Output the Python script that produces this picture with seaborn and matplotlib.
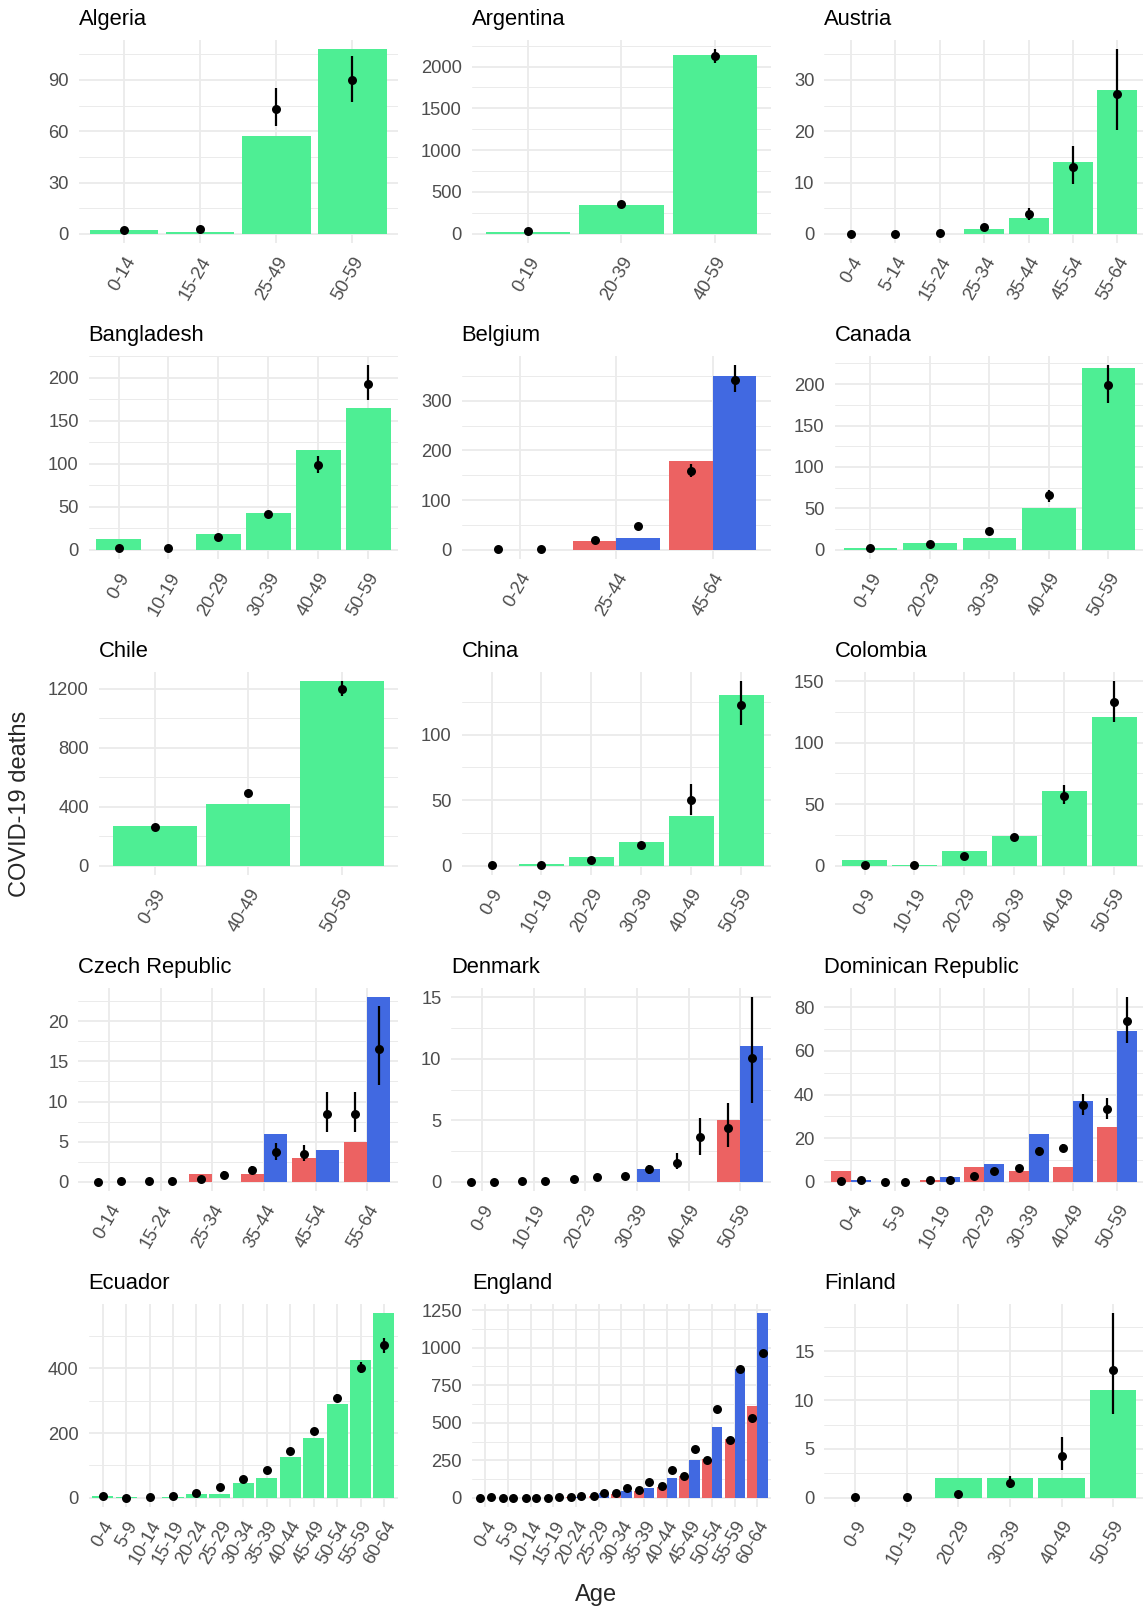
import numpy as np
import pandas as pd
import matplotlib
matplotlib.use("Agg")
import matplotlib.pyplot as plt
import seaborn as sns

# ---------------- data ----------------
algeria_ages = ["0-14", "15-24", "25-49", "50-59"]
algeria_deaths = [2, 1, 57, 108]
algeria_est = [2.0, 2.7, 73.2, 90.0]
algeria_lo = [1.2, 1.8, 62.9, 77.1]
algeria_hi = [2.9, 3.8, 85.3, 104.2]

argentina_ages = ["0-19", "20-39", "40-59"]
argentina_deaths = [20, 343, 2139]
argentina_est = [32, 351, 2123]
argentina_lo = [26, 331, 2044]
argentina_hi = [38, 371, 2207]

austria_ages = ["0-4", "5-14", "15-24", "25-34", "35-44", "45-54", "55-64"]
austria_deaths = [0, 0, 0, 1, 3, 14, 28]
austria_est = [0.02, 0.04, 0.2, 1.3, 3.9, 13.0, 27.3]
austria_lo = [0.01, 0.02, 0.1, 0.9, 2.7, 9.8, 20.2]
austria_hi = [0.04, 0.07, 0.35, 1.8, 5.1, 17.1, 36.0]

bangladesh_ages = ["0-9", "10-19", "20-29", "30-39", "40-49", "50-59"]
bangladesh_deaths = [12, 0, 18, 43, 116, 165]
bangladesh_est = [2.3, 2.3, 14.3, 41.7, 98.5, 193.0]
bangladesh_lo = [1.6, 1.6, 12.2, 38.0, 88.8, 173.7]
bangladesh_hi = [3.2, 3.2, 16.6, 45.6, 109.3, 214.3]

belgium_ages = ["0-24", "25-44", "45-64"]
belgium_deaths_f = [0, 18, 178]
belgium_deaths_m = [0, 24, 350]
belgium_est_f = [2.0, 20.0, 158.7]
belgium_lo_f = [1.2, 16.5, 147.4]
belgium_hi_f = [3.0, 23.8, 172.8]
belgium_est_m = [2.2, 47.0, 342.3]
belgium_lo_m = [1.4, 41.5, 316.8]
belgium_hi_m = [3.2, 53.0, 371.7]

canada_ages = ["0-19", "20-29", "30-39", "40-49", "50-59"]
canada_deaths = [2, 8, 14, 51, 220]
canada_est = [1.6, 6.8, 22.9, 65.9, 198.8]
canada_lo = [1.0, 5.3, 20.0, 58.2, 176.7]
canada_hi = [2.4, 8.6, 26.0, 72.3, 222.9]

chile_ages = ["0-39", "40-49", "50-59"]
chile_deaths = [270, 420, 1250]
chile_est = [260, 490, 1195]
chile_lo = [245, 468, 1150]
chile_hi = [276, 512, 1250]

china_ages = ["0-9", "10-19", "20-29", "30-39", "40-49", "50-59"]
china_deaths = [0, 1, 7, 18, 38, 130]
china_est = [0.5, 0.5, 4.7, 15.6, 50.0, 122.6]
china_lo = [0.2, 0.2, 3.5, 13.4, 39.0, 107.0]
china_hi = [0.9, 0.9, 6.1, 18.0, 62.5, 140.6]

colombia_ages = ["0-9", "10-19", "20-29", "30-39", "40-49", "50-59"]
colombia_deaths = [5, 1, 12, 24, 61, 121]
colombia_est = [1.0, 1.0, 8.0, 23.0, 57.0, 133.0]
colombia_lo = [0.6, 0.6, 6.4, 20.5, 50.0, 117.0]
colombia_hi = [1.5, 1.5, 9.8, 25.8, 66.0, 150.0]

czech_ages = ["0-14", "15-24", "25-34", "35-44", "45-54", "55-64"]
czech_deaths_f = [0, 0, 1, 1, 3, 5]
czech_deaths_m = [0, 0, 0, 6, 4, 23]
czech_est_f = [0.02, 0.05, 0.4, 1.5, 3.4, 8.5]
czech_lo_f = [0.01, 0.02, 0.25, 1.1, 2.6, 6.2]
czech_hi_f = [0.04, 0.09, 0.6, 2.0, 4.6, 11.2]
czech_est_m = [0.05, 0.1, 0.9, 3.7, 8.5, 16.5]
czech_lo_m = [0.02, 0.05, 0.6, 2.7, 6.2, 12.1]
czech_hi_m = [0.09, 0.17, 1.3, 4.8, 11.2, 21.9]

denmark_ages = ["0-9", "10-19", "20-29", "30-39", "40-49", "50-59"]
denmark_deaths_f = [0, 0, 0, 0, 0, 5]
denmark_deaths_m = [0, 0, 0, 1, 0, 11]
denmark_est_f = [0.0, 0.03, 0.2, 0.45, 1.5, 4.35]
denmark_lo_f = [0.0, 0.01, 0.12, 0.3, 1.0, 2.8]
denmark_hi_f = [0.01, 0.06, 0.3, 0.65, 2.3, 6.4]
denmark_est_m = [0.02, 0.05, 0.35, 1.0, 3.6, 10.1]
denmark_lo_m = [0.01, 0.02, 0.22, 0.67, 2.2, 6.4]
denmark_hi_m = [0.04, 0.09, 0.5, 1.4, 5.2, 15.0]

dominican_ages = ["0-4", "5-9", "10-19", "20-29", "30-39", "40-49", "50-59"]
dominican_deaths_f = [5, 0, 1, 7, 5, 7, 25]
dominican_deaths_m = [1, 0, 2, 8, 22, 37, 69]
dominican_est_f = [0.5, 0.1, 0.6, 2.7, 6.1, 15.4, 33.5]
dominican_lo_f = [0.3, 0.05, 0.4, 2.1, 5.1, 13.5, 29.0]
dominican_hi_f = [0.8, 0.2, 0.9, 3.4, 7.3, 17.5, 38.4]
dominican_est_m = [0.6, 0.1, 0.8, 4.9, 14.0, 35.4, 73.6]
dominican_lo_m = [0.4, 0.05, 0.5, 4.0, 12.3, 30.5, 63.5]
dominican_hi_m = [0.9, 0.2, 1.1, 5.9, 15.9, 40.4, 84.6]

five_year_ages = ["0-4", "5-9", "10-14", "15-19", "20-24", "25-29", "30-34",
                  "35-39", "40-44", "45-49", "50-54", "55-59", "60-64"]

ecuador_deaths = [4, 2, 0, 1, 13, 13, 46, 61, 125, 186, 289, 427, 570]
ecuador_est = [7, 0.5, 1, 5, 16, 33, 57, 85, 143, 206, 307, 401, 471]
ecuador_lo = [5, 0.2, 0.5, 3.5, 13, 29, 52, 79, 135, 196, 295, 384, 448]
ecuador_hi = [9, 1, 1.8, 7, 19, 37, 62, 91, 151, 216, 319, 420, 495]

england_deaths_f = [0, 0, 0, 0, 3, 10, 25, 45, 75, 145, 260, 395, 615]
england_deaths_m = [0, 0, 0, 1, 5, 30, 45, 67, 130, 250, 470, 860, 1230]
england_est_f = [1, 1, 1, 1, 7, 12, 29, 49, 76, 143, 252, 388, 530]
england_lo_f = [0.5, 0.5, 0.5, 0.5, 5, 10, 26, 45, 71, 136, 243, 377, 517]
england_hi_f = [1.5, 1.5, 1.5, 1.5, 9, 14, 32, 53, 81, 150, 261, 399, 543]
england_est_m = [2, 1, 1, 2, 12, 31, 62, 107, 187, 325, 593, 858, 965]
england_lo_m = [1, 0.5, 0.5, 1, 10, 28, 58, 101, 179, 314, 578, 839, 945]
england_hi_m = [3, 1.5, 1.5, 3, 14, 34, 66, 113, 195, 336, 608, 877, 985]

finland_ages = ["0-9", "10-19", "20-29", "30-39", "40-49", "50-59"]
finland_deaths = [0, 0, 2, 2, 2, 11]
finland_est = [0.05, 0.05, 0.4, 1.5, 4.3, 13.1]
finland_lo = [0.02, 0.02, 0.2, 1.0, 2.8, 8.6]
finland_hi = [0.1, 0.1, 0.7, 2.2, 6.2, 18.9]

# ---------------- styling ----------------
sns.set_style("white")
plt.rcParams["font.family"] = ["Liberation Sans", "DejaVu Sans"]

SEX_COLORS = {"both": "#4EEE94", "female": "#EC6262", "male": "#4169E1"}
SEX_OFFSET = {"both": 0.0, "female": -0.225, "male": 0.225}
GRID = "#EBEBEB"
TEXT_GREY = "#4D4D4D"

W, H = 1143, 1612
fig = plt.figure(figsize=(W / 100, H / 100), dpi=100)


def both(ages, deaths, est, lo, hi):
    bars = pd.DataFrame({"age": ages, "sex": "both", "deaths": deaths})
    pts = pd.DataFrame({"age": ages, "sex": "both", "est": est, "lo": lo, "hi": hi})
    return bars, pts


def by_sex(ages, df_, dm_, ef, lf, hf, em, lm, hm):
    bars = pd.concat([
        pd.DataFrame({"age": ages, "sex": "female", "deaths": df_}),
        pd.DataFrame({"age": ages, "sex": "male", "deaths": dm_}),
    ])
    pts = pd.concat([
        pd.DataFrame({"age": ages, "sex": "female", "est": ef, "lo": lf, "hi": hf}),
        pd.DataFrame({"age": ages, "sex": "male", "est": em, "lo": lm, "hi": hm}),
    ])
    return bars, pts


panels = [
    ("Algeria", algeria_ages, *both(algeria_ages, algeria_deaths, algeria_est, algeria_lo, algeria_hi), 30),
    ("Argentina", argentina_ages, *both(argentina_ages, argentina_deaths, argentina_est, argentina_lo, argentina_hi), 500),
    ("Austria", austria_ages, *both(austria_ages, austria_deaths, austria_est, austria_lo, austria_hi), 10),
    ("Bangladesh", bangladesh_ages, *both(bangladesh_ages, bangladesh_deaths, bangladesh_est, bangladesh_lo, bangladesh_hi), 50),
    ("Belgium", belgium_ages, *by_sex(belgium_ages, belgium_deaths_f, belgium_deaths_m,
                                      belgium_est_f, belgium_lo_f, belgium_hi_f,
                                      belgium_est_m, belgium_lo_m, belgium_hi_m), 100),
    ("Canada", canada_ages, *both(canada_ages, canada_deaths, canada_est, canada_lo, canada_hi), 50),
    ("Chile", chile_ages, *both(chile_ages, chile_deaths, chile_est, chile_lo, chile_hi), 400),
    ("China", china_ages, *both(china_ages, china_deaths, china_est, china_lo, china_hi), 50),
    ("Colombia", colombia_ages, *both(colombia_ages, colombia_deaths, colombia_est, colombia_lo, colombia_hi), 50),
    ("Czech Republic", czech_ages, *by_sex(czech_ages, czech_deaths_f, czech_deaths_m,
                                           czech_est_f, czech_lo_f, czech_hi_f,
                                           czech_est_m, czech_lo_m, czech_hi_m), 5),
    ("Denmark", denmark_ages, *by_sex(denmark_ages, denmark_deaths_f, denmark_deaths_m,
                                      denmark_est_f, denmark_lo_f, denmark_hi_f,
                                      denmark_est_m, denmark_lo_m, denmark_hi_m), 5),
    ("Dominican Republic", dominican_ages, *by_sex(dominican_ages, dominican_deaths_f, dominican_deaths_m,
                                                   dominican_est_f, dominican_lo_f, dominican_hi_f,
                                                   dominican_est_m, dominican_lo_m, dominican_hi_m), 20),
    ("Ecuador", five_year_ages, *both(five_year_ages, ecuador_deaths, ecuador_est, ecuador_lo, ecuador_hi), 200),
    ("England", five_year_ages, *by_sex(five_year_ages, england_deaths_f, england_deaths_m,
                                        england_est_f, england_lo_f, england_hi_f,
                                        england_est_m, england_lo_m, england_hi_m), 250),
    ("Finland", finland_ages, *both(finland_ages, finland_deaths, finland_est, finland_lo, finland_hi), 5),
]

# cell geometry in pixels (top-left origin)
COL_STEP, ROW_STEP = 373, 316
PANEL_TOP, PANEL_BOTTOM = 40, 243
PANEL_RIGHT0, LABEL_LEFT0 = 398, 48

axes = []
for i, (title, ages, bars, pts, step) in enumerate(panels):
    r, c = divmod(i, 3)
    ax = fig.add_axes([0.1, 0.1, 0.2, 0.1])
    hues = list(dict.fromkeys(bars["sex"]))
    sns.barplot(data=bars, x="age", y="deaths", hue="sex", order=ages, hue_order=hues,
                palette=SEX_COLORS, width=0.9, dodge=True, gap=0, linewidth=0,
                saturation=1, errorbar=None, legend=False, ax=ax, zorder=2)
    idx = {a: k for k, a in enumerate(ages)}
    xs = pts["age"].map(idx).to_numpy() + pts["sex"].map(SEX_OFFSET).to_numpy()
    ax.vlines(xs, pts["lo"], pts["hi"], color="black", lw=1.6, zorder=3)
    ax.scatter(xs, pts["est"], s=42, color="black", zorder=4, linewidths=0)

    n = len(ages)
    top = max(bars["deaths"].max(), pts["hi"].max())
    ax.set_xlim(-0.6, n - 0.4)
    ax.set_ylim(-0.05 * top, 1.05 * top)
    major = np.arange(0, 1.05 * top + 1e-9, step)
    minor = np.arange(step / 2, 1.05 * top, step)
    ax.set_yticks(major)
    ax.set_yticks(minor, minor=True)
    ax.set_yticklabels([f"{v:g}" for v in major])
    ax.set_xticks(range(n))
    ax.set_xticklabels(ages, rotation=60, ha="right", va="top", rotation_mode="anchor")
    ax.set_xlabel("")
    ax.set_ylabel("")
    ax.grid(which="major", axis="both", color=GRID, lw=1.3, zorder=0)
    ax.grid(which="minor", axis="y", color=GRID, lw=0.7, zorder=0)
    ax.set_axisbelow(True)
    for s in ax.spines.values():
        s.set_visible(False)
    ax.tick_params(axis="both", which="both", length=0, labelsize=13.2, labelcolor=TEXT_GREY)
    ax.tick_params(axis="y", pad=7.2)
    ax.tick_params(axis="x", pad=8)
    ax.set_title(title, loc="left", fontsize=15.8, pad=11, color="black")
    axes.append((ax, r, c))

# place each panel so its tick labels start at the cell's left edge
fig.canvas.draw()
renderer = fig.canvas.get_renderer()
for ax, r, c in axes:
    widths = [t.get_window_extent(renderer).width for t in ax.get_yticklabels() if t.get_text()]
    lw = max(widths) if widths else 0
    left = LABEL_LEFT0 + c * COL_STEP + lw + 10
    right = PANEL_RIGHT0 + c * COL_STEP
    top = PANEL_TOP + r * ROW_STEP
    bottom = PANEL_BOTTOM + r * ROW_STEP
    ax.set_position([left / W, 1 - bottom / H, (right - left) / W, (bottom - top) / H])

fig.text(20 / W, 1 - 804 / H, "COVID-19 deaths", rotation=90, ha="center", va="center", fontsize=17)
fig.text(596 / W, 1 - 1595 / H, "Age", ha="center", va="center", fontsize=17)

fig.savefig("out.png", dpi=100, facecolor="white")
